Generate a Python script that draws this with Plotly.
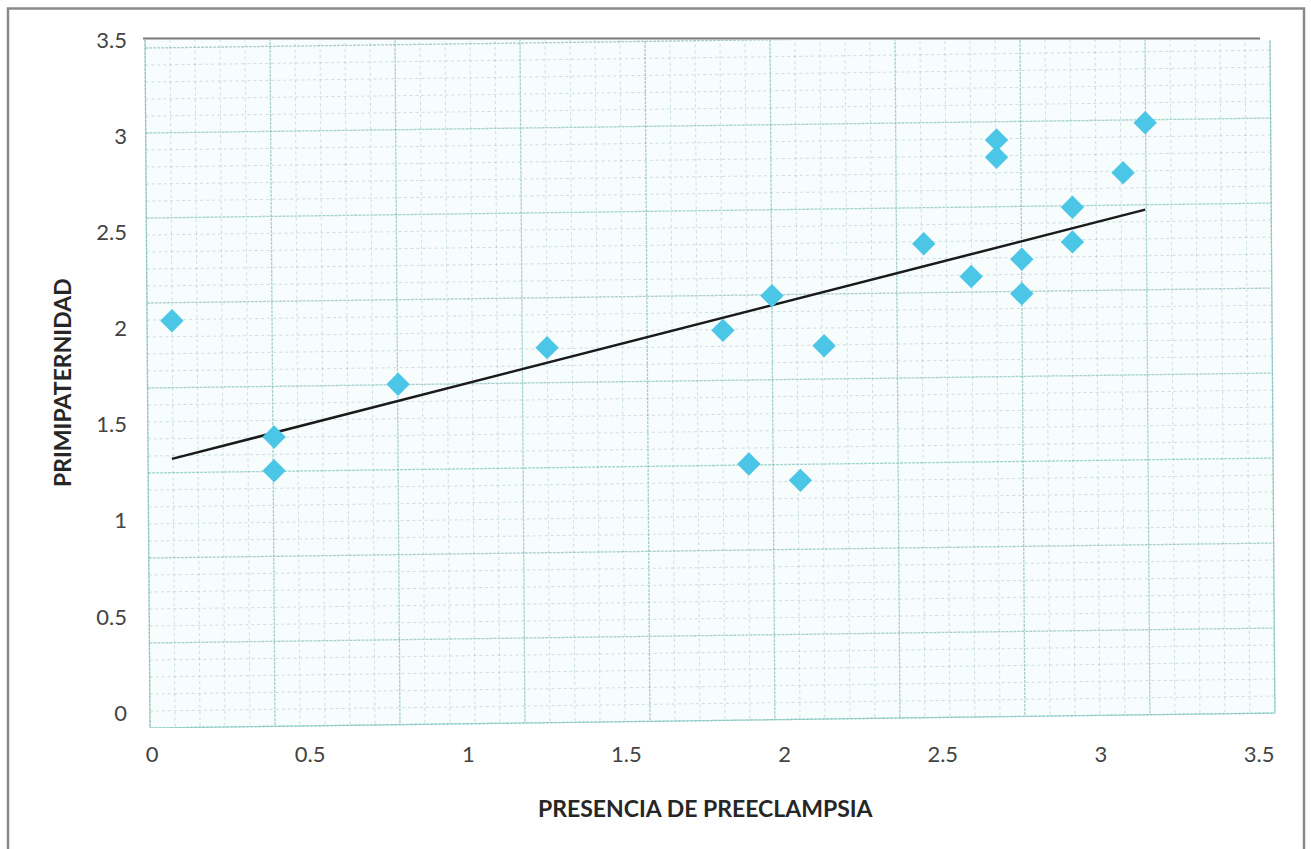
import numpy as np
import plotly.graph_objects as go

# Observations: presence of pre-eclampsia (x) vs primipaternity (y)
preeclampsia = [0.063, 0.386, 0.386, 0.778, 1.249, 1.805, 1.960, 1.887, 2.050, 2.125,
                2.440, 2.590, 2.670, 2.670, 2.750, 2.750, 2.910, 2.910, 3.070, 3.140]
primipaternidad = [2.04, 1.435, 1.26, 1.71, 1.90, 1.99, 2.17, 1.295, 1.21, 1.91,
                   2.44, 2.27, 2.98, 2.89, 2.36, 2.18, 2.63, 2.45, 2.81, 3.07]

tick_vals = [0, 0.5, 1, 1.5, 2, 2.5, 3, 3.5]
tick_text = ["0", "0.5", "1", "1.5", "2", "2.5", "3", "3.5"]

W, H = 1311, 849
ML, MR, MT, MB = 144, 33, 40, 121

# pixel <-> data calibration of the plotting area
X0PX, XSCALE = 152.0, 316.3      # x=0 pixel, pixels per unit
Y0PX, YSCALE = 713.0, 192.3      # y=0 pixel, pixels per unit
x_range = [(ML - X0PX) / XSCALE, (W - MR - X0PX) / XSCALE]
y_range = [(Y0PX - (H - MB)) / YSCALE, 3.5]


def px_to_x(px):
    return (px - X0PX) / XSCALE


def py_to_y(py):
    return (Y0PX - py) / YSCALE


def px_to_paper(px):
    return (px - ML) / (W - ML - MR)


def py_to_paper(py):
    return (H - MB - py) / (H - MT - MB)


# graph-paper sheet: slightly skewed millimetre grid
def sheet_pt(u, v):
    px0 = 145 + 25 * u
    py = 48 + 17 * v - 0.0133 * (px0 - 145)
    px = px0 + 0.0073 * (py - 40)
    return px_to_x(px), py_to_y(py)


NU, NV = 45, 40
V_TOP = -1.2

fig = go.Figure()

# sheet fill
corners = [sheet_pt(0, V_TOP), sheet_pt(NU, V_TOP), sheet_pt(NU, NV), sheet_pt(0, NV), sheet_pt(0, V_TOP)]
fig.add_trace(go.Scatter(
    x=[c[0] for c in corners], y=[c[1] for c in corners],
    mode="lines", fill="toself", fillcolor="#f7fcfc",
    line=dict(color="rgba(130,195,190,0.5)", width=1.2),
    hoverinfo="skip", showlegend=False))


def grid_lines(major):
    xs, ys = [], []
    for i in range(NU + 1):
        if (i % 5 == 0) != major:
            continue
        a, b = sheet_pt(i, V_TOP), sheet_pt(i, NV)
        xs += [a[0], b[0], None]
        ys += [a[1], b[1], None]
    for j in range(NV + 1):
        if (j % 5 == 0) != major:
            continue
        a, b = sheet_pt(0, j), sheet_pt(NU, j)
        xs += [a[0], b[0], None]
        ys += [a[1], b[1], None]
    return xs, ys


mx, my = grid_lines(False)
fig.add_trace(go.Scatter(x=mx, y=my, mode="lines",
                         line=dict(color="rgba(140,185,182,0.42)", width=1, dash="dot"),
                         hoverinfo="skip", showlegend=False))
Mx, My = grid_lines(True)
fig.add_trace(go.Scatter(x=Mx, y=My, mode="lines",
                         line=dict(color="rgba(110,180,175,0.6)", width=1.3, dash="3px,1px"),
                         hoverinfo="skip", showlegend=False))

# linear trend line over the observed x span
slope, intercept = np.polyfit(preeclampsia, primipaternidad, 1)
tx = [min(preeclampsia), max(preeclampsia)]
ty = [slope * v + intercept for v in tx]
fig.add_trace(go.Scatter(x=tx, y=ty, mode="lines",
                         line=dict(color="#1a1a1a", width=2.5),
                         hoverinfo="skip", showlegend=False))

# data points
fig.add_trace(go.Scatter(
    x=preeclampsia, y=primipaternidad, mode="markers",
    marker=dict(symbol="diamond", size=18, color="#4cc6e6", line=dict(width=0)),
    showlegend=False))

tick_font = dict(family="Lato, 'Open Sans', sans-serif", size=22, color="#444444")

fig.update_xaxes(range=x_range, tickvals=tick_vals, ticktext=tick_text,
                 showgrid=False, zeroline=False, showline=False, ticks="",
                 tickfont=tick_font, ticklabelstandoff=11)
fig.update_yaxes(range=y_range, tickvals=tick_vals, ticktext=tick_text,
                 showgrid=False, zeroline=False, showline=False, ticks="",
                 tickfont=tick_font, ticklabelstandoff=16)

shapes = [
    # chart frame
    dict(type="rect", xref="paper", yref="paper",
         x0=px_to_paper(8), x1=px_to_paper(1304), y0=py_to_paper(860), y1=py_to_paper(8.5),
         line=dict(color="#8a8a8a", width=2.5), fillcolor="rgba(0,0,0,0)", layer="above"),
    # top edge line of the plotting area
    dict(type="line", xref="paper", yref="paper",
         x0=px_to_paper(143), x1=px_to_paper(1260), y0=py_to_paper(38.5), y1=py_to_paper(38.5),
         line=dict(color="#7a7a7a", width=1.8)),
]

title_font = dict(family="Lato, 'Open Sans', sans-serif", size=23, color="#262626")
annotations = [
    dict(text="<b>PRESENCIA DE PREECLAMPSIA</b>", xref="paper", yref="paper",
         x=px_to_paper(706), y=py_to_paper(808), showarrow=False,
         xanchor="center", yanchor="middle", font=title_font),
    dict(text="<b>PRIMIPATERNIDAD</b>", xref="paper", yref="paper",
         x=px_to_paper(62), y=py_to_paper(383), showarrow=False, textangle=-90,
         xanchor="center", yanchor="middle", font=title_font),
]

fig.update_layout(
    width=W, height=H,
    margin=dict(l=ML, r=MR, t=MT, b=MB, pad=0),
    paper_bgcolor="white", plot_bgcolor="white",
    shapes=shapes, annotations=annotations,
    showlegend=False,
)

fig.write_html("out.html")
